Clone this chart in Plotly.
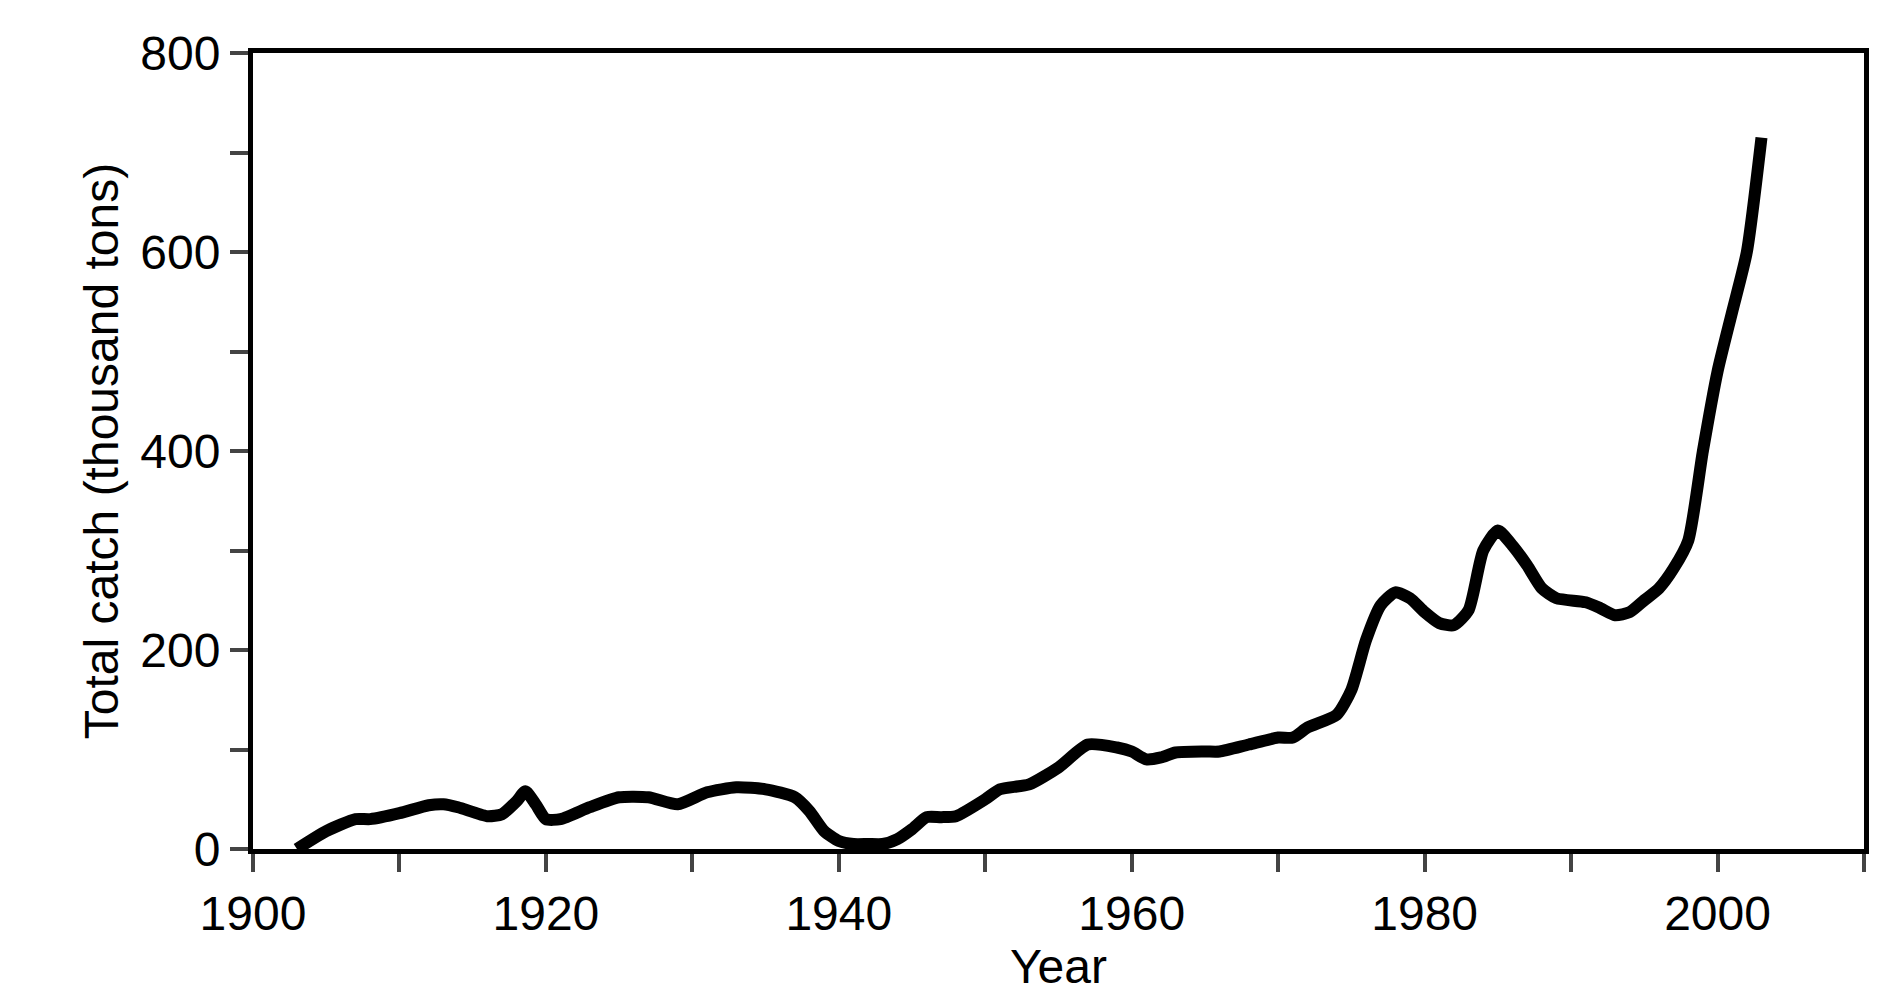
import plotly.graph_objects as go

years = [1903,1905,1907,1908,1910,1912,1913,1914,1916,1917,1918,1918.6,1919.3,1920,1921,1923,1925,1927,1929,1931,1933,1935,1937,1938,1939,1940,1941,1942,1943,1944,1945,1946,1947,1948,1950,1951,1953,1955,1957,1959,1960,1961,1962,1963,1965,1966,1968,1970,1971,1972,1974,1975,1976,1977,1978,1979,1980,1981,1982,1983,1984,1985,1986,1987,1988,1989,1991,1992,1993,1994,1995,1996,1997,1998,1999,2000,2001,2002,2003]
catch = [0,18,30,30,36,44,45,42,33,35,48,58,45,30,30,42,52,52,45,57,62,60,52,38,18,8,5,5,5,10,20,32,32,33,50,60,65,82,105,102,98,90,92,97,98,98,105,112,112,122,135,160,210,245,258,252,238,227,225,240,300,320,305,285,262,252,248,242,235,238,250,262,282,310,400,480,540,600,715]

fig = go.Figure(go.Scatter(x=years, y=catch, mode="lines",
    line=dict(color="black", width=12, shape="spline", smoothing=0.6)))

font = dict(family="Liberation Sans, Arial", size=48, color="black")
fig.update_layout(
    width=1884, height=1007, plot_bgcolor="white", paper_bgcolor="white",
    margin=dict(l=245, r=28, t=45, b=166), showlegend=False, font=font,
    xaxis=dict(range=[1900, 2010], tickvals=[1900,1920,1940,1960,1980,2000],
               ticks="outside", ticklen=18, tickwidth=4, linewidth=5, linecolor="black",
               mirror=True, showgrid=False, zeroline=False,
               minor=dict(tickvals=[1910,1930,1950,1970,1990,2010], ticks="outside", ticklen=18, tickwidth=4),
               title=dict(text="Year", standoff=0, font=font)),
    yaxis=dict(range=[0, 800], tickvals=[0,200,400,600,800],
               ticks="outside", ticklen=18, tickwidth=4, linewidth=5, linecolor="black",
               mirror=True, showgrid=False, zeroline=False,
               minor=dict(tickvals=[100,300,500,700], ticks="outside", ticklen=18, tickwidth=4),
               title=dict(text="Total catch (thousand tons)", standoff=8, font=font)),
)
fig.write_html("out.html")
